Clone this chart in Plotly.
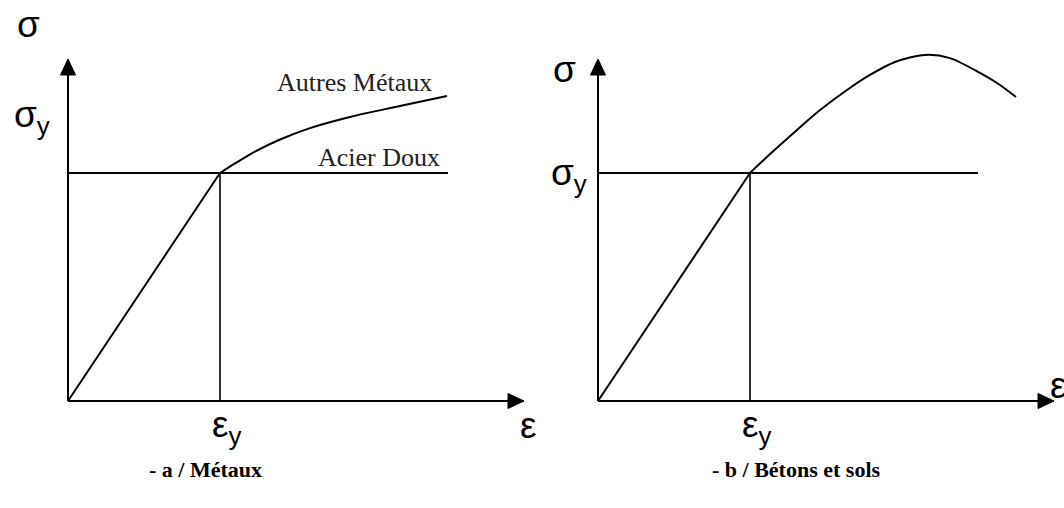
import plotly.graph_objects as go

# Normalised units: strain in multiples of eps_y, stress in multiples of sigma_y
EPS_Y = 1.0
SIG_Y = 1.0
AXIS_X_END = 3.0
AXIS_Y_END = 1.5

# (a) Metals: yield plateau for mild steel, hardening curve for other metals
metal_plateau_end = 2.5
metal_hard_eps = [1.0, 1.099, 1.230, 1.395, 1.592, 1.855, 2.184, 2.493]
metal_hard_sig = [1.0, 1.042, 1.094, 1.147, 1.197, 1.246, 1.294, 1.338]

# (b) Concrete and soils: rise to a peak then softening
soil_plateau_end = 2.5
soil_eps = [1.0, 1.132, 1.309, 1.461, 1.638, 1.789, 1.954, 2.151, 2.316, 2.513, 2.645, 2.750]
soil_sig = [1.0, 1.083, 1.189, 1.276, 1.364, 1.430, 1.487, 1.518, 1.504, 1.439, 1.386, 1.333]

label_a = "- a / Métaux"
label_b = "- b / Bétons et sols"
label_other = "Autres Métaux"
label_mild = "Acier Doux"

W, H = 1064, 508
PX_PER_EPS = 152.0
PX_PER_SIG = 228.0
ORIG_LEFT_PX = 68
ORIG_RIGHT_PX = 598
ORIG_Y_PX = 401  # from top

xr_left = [-ORIG_LEFT_PX / PX_PER_EPS, (W / 2 - ORIG_LEFT_PX) / PX_PER_EPS]
xr_right = [-(ORIG_RIGHT_PX - W / 2) / PX_PER_EPS, (W - ORIG_RIGHT_PX) / PX_PER_EPS]
yr = [-(H - ORIG_Y_PX) / PX_PER_SIG, ORIG_Y_PX / PX_PER_SIG]

# arrowhead size in pixels, converted to axis units
HEAD_LEN = 16
HEAD_HALF = 7.5
hx_len, hx_half = HEAD_LEN / PX_PER_EPS, HEAD_HALF / PX_PER_SIG
hy_len, hy_half = HEAD_LEN / PX_PER_SIG, HEAD_HALF / PX_PER_EPS

LINE = dict(color="black", width=2)
fig = go.Figure()


def line(xa, xs, ys, width=2, **extra):
    fig.add_trace(go.Scatter(x=xs, y=ys, mode="lines",
                             line=dict(color="black", width=width, **extra),
                             xaxis=xa, yaxis="y", hoverinfo="skip"))


def head(xa, xs, ys):
    fig.add_trace(go.Scatter(x=xs, y=ys, mode="lines", fill="toself",
                             fillcolor="black", line=dict(color="black", width=1),
                             xaxis=xa, yaxis="y", hoverinfo="skip"))


def add_panel(xa, plateau_end, curve_x, curve_y):
    # axes with arrowheads
    line(xa, [0, AXIS_X_END - hx_len], [0, 0])
    head(xa, [AXIS_X_END - hx_len, AXIS_X_END, AXIS_X_END - hx_len, AXIS_X_END - hx_len],
         [-hx_half, 0, hx_half, -hx_half])
    line(xa, [0, 0], [0, AXIS_Y_END - hy_len])
    head(xa, [-hy_half, 0, hy_half, -hy_half],
         [AXIS_Y_END - hy_len, AXIS_Y_END, AXIS_Y_END - hy_len, AXIS_Y_END - hy_len])
    # elastic branch
    line(xa, [0, EPS_Y], [0, SIG_Y])
    # yield plateau
    line(xa, [0, plateau_end], [SIG_Y, SIG_Y])
    # vertical at eps_y
    line(xa, [EPS_Y, EPS_Y], [0, SIG_Y], width=1.6)
    # post-yield curve
    line(xa, curve_x, curve_y, shape="spline", smoothing=0.8)


add_panel("x", metal_plateau_end, metal_hard_eps, metal_hard_sig)
add_panel("x2", soil_plateau_end, soil_eps, soil_sig)

annotations = []
GREEK = dict(family="Liberation Sans, Arial", size=37, color="black")
SERIF = dict(family="Liberation Serif, Times New Roman", size=26, color="#222")
BOLD = dict(family="Liberation Serif, Times New Roman", size=22, color="black")


def txt(xa, x, y, text, font, **kw):
    annotations.append(dict(x=x, y=y, xref=xa, yref="y", text=text, showarrow=False,
                            font=font, **kw))


def px_x(px, origin):
    return (px - origin) / PX_PER_EPS


def px_y(py):
    return (ORIG_Y_PX - py) / PX_PER_SIG


# panel (a) labels
txt("x", px_x(28, ORIG_LEFT_PX), px_y(24), "σ", GREEK)
txt("x", px_x(32, ORIG_LEFT_PX), px_y(117), "σ<sub>y</sub>", GREEK)
txt("x", px_x(528, ORIG_LEFT_PX), px_y(425), "ε", GREEK)
txt("x", px_x(227, ORIG_LEFT_PX), px_y(427), "ε<sub>y</sub>", GREEK)
txt("x", px_x(354, ORIG_LEFT_PX), px_y(82), label_other, SERIF)
txt("x", px_x(379, ORIG_LEFT_PX), px_y(157), label_mild, SERIF)
txt("x", px_x(205, ORIG_LEFT_PX), px_y(469), "<b>" + label_a + "</b>", BOLD)

# panel (b) labels
txt("x2", px_x(564, ORIG_RIGHT_PX), px_y(69), "σ", GREEK)
txt("x2", px_x(569, ORIG_RIGHT_PX), px_y(175), "σ<sub>y</sub>", GREEK)
txt("x2", px_x(1058, ORIG_RIGHT_PX), px_y(385), "ε", GREEK)
txt("x2", px_x(757, ORIG_RIGHT_PX), px_y(427), "ε<sub>y</sub>", GREEK)
txt("x2", px_x(796, ORIG_RIGHT_PX), px_y(469), "<b>" + label_b + "</b>", BOLD)

hidden = dict(visible=False, showgrid=False, zeroline=False, fixedrange=True)
fig.update_layout(
    width=W, height=H,
    margin=dict(l=0, r=0, t=0, b=0),
    paper_bgcolor="white", plot_bgcolor="white",
    showlegend=False,
    xaxis=dict(domain=[0, 0.5], range=xr_left, **hidden),
    xaxis2=dict(domain=[0.5, 1], range=xr_right, **hidden),
    yaxis=dict(domain=[0, 1], range=yr, **hidden),
    annotations=annotations,
)

fig.write_html("out.html")
